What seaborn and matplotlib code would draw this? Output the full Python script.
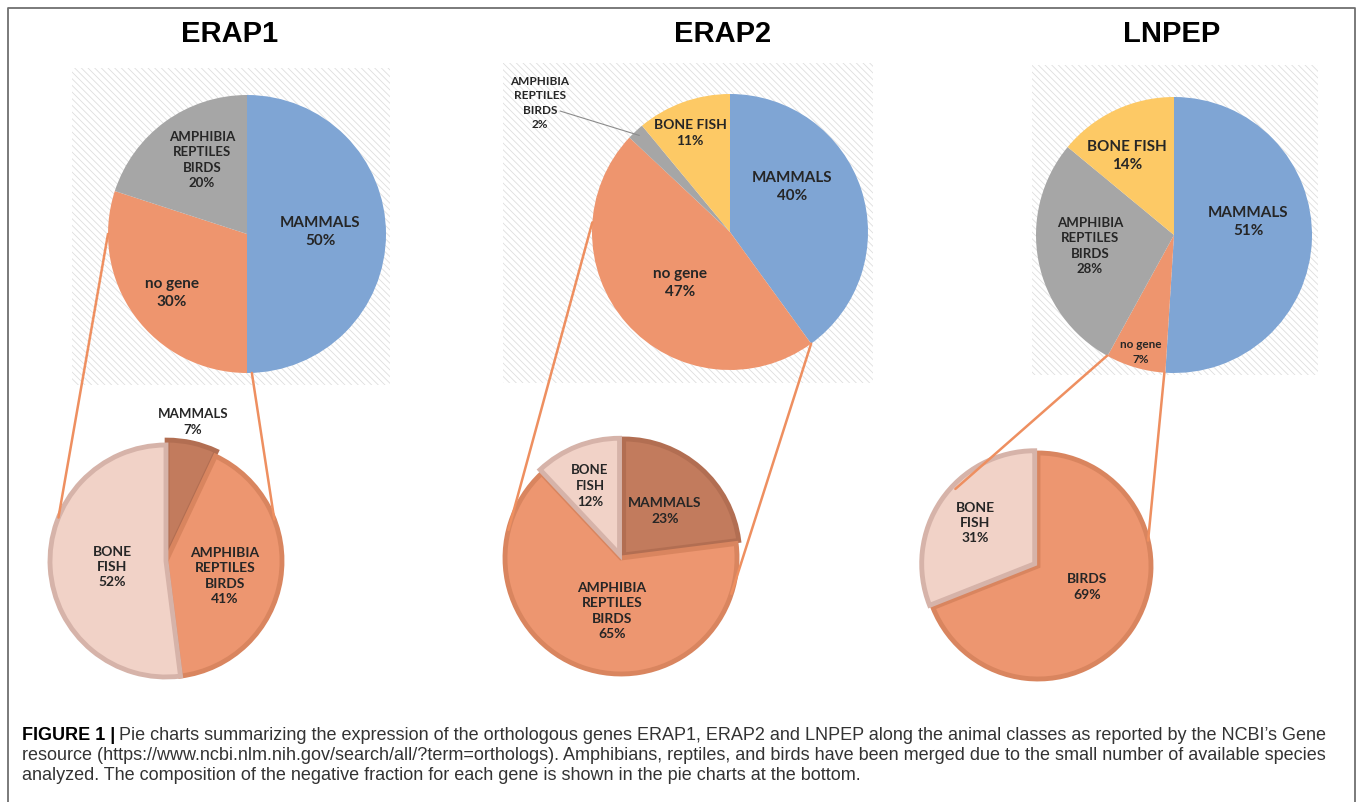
import numpy as np
import matplotlib
matplotlib.use("Agg")
import matplotlib.pyplot as plt
import seaborn as sns
from matplotlib.patches import Rectangle

sns.set_theme(style="white")
plt.rcParams['font.family'] = ['Lato', 'DejaVu Sans']
plt.rcParams['hatch.linewidth'] = 0.6

# ---- data -------------------------------------------------------------
genes = ["ERAP1", "ERAP2", "LNPEP"]

erap1_top_labels = ["MAMMALS", "no gene", "AMPHIBIA\nREPTILES\nBIRDS"]
erap1_top_values = [50, 30, 20]
erap2_top_labels = ["MAMMALS", "no gene", "AMPHIBIA\nREPTILES\nBIRDS", "BONE FISH"]
erap2_top_values = [40, 47, 2, 11]
lnpep_top_labels = ["MAMMALS", "no gene", "AMPHIBIA\nREPTILES\nBIRDS", "BONE FISH"]
lnpep_top_values = [51, 7, 28, 14]

erap1_bottom_labels = ["MAMMALS", "AMPHIBIA\nREPTILES\nBIRDS", "BONE\nFISH"]
erap1_bottom_values = [7, 41, 52]
erap2_bottom_labels = ["MAMMALS", "AMPHIBIA\nREPTILES\nBIRDS", "BONE\nFISH"]
erap2_bottom_values = [23, 65, 12]
lnpep_bottom_labels = ["BIRDS", "BONE\nFISH"]
lnpep_bottom_values = [69, 31]

caption_bold = "FIGURE 1 |"
caption_lines = [
    "Pie charts summarizing the expression of the orthologous genes ERAP1, ERAP2 and LNPEP along the animal classes as reported by the NCBI\u2019s Gene",
    "resource (https://www.ncbi.nlm.nih.gov/search/all/?term=orthologs). Amphibians, reptiles, and birds have been merged due to the small number of available species",
    "analyzed. The composition of the negative fraction for each gene is shown in the pie charts at the bottom.",
]

# ---- colours ----------------------------------------------------------
top_colors = {"MAMMALS": "#7fa5d4", "no gene": "#ee956e",
              "AMPHIBIA\nREPTILES\nBIRDS": "#a6a6a6", "BONE FISH": "#fdc965"}
bot_fill = {"MAMMALS": "#c27b5d", "AMPHIBIA\nREPTILES\nBIRDS": "#ed9670",
            "BIRDS": "#ed9670", "BONE\nFISH": "#f1d2c7"}
bot_edge = {"MAMMALS": "#b26e52", "AMPHIBIA\nREPTILES\nBIRDS": "#d9855f",
            "BIRDS": "#d9855f", "BONE\nFISH": "#d6b3a9"}
link_color = "#ee8f60"
text_color = "#262626"

# ---- layout (pixels, y measured from top) -----------------------------
W, H = 1358, 802
title_x = [230, 723, 1172]
top_centers = [(247, 234), (730, 232), (1174, 235)]
top_radius = [139, 138, 138]
top_boxes = [(72, 68, 390, 385), (503, 63, 873, 383), (1032, 65, 1318, 375)]
bot_centers = [(166, 561), (621, 558), (1038, 566)]
bot_radius = [116, 116, 113]
bot_explode = [[5, 0, 0], [4, 0, 4], [0, 4]]
# label offsets from pie centre and font sizes
top_label_off = [[(73, -2), (-75, 59), (-45, -74)],
                 [(62, -45), (-50, 51), (-190, -129), (-40, -99)],
                 [(74, -13), (-33, 117), (-84, 11), (-47, -79)]]
top_label_fs = [[11, 11, 9.5], [11, 11, 8.5, 10], [11, 8.5, 9.5, 11]]
bot_label_off = [[(27, -139), (59, 15), (-54, 6)],
                 [(44, -47), (-9, 53), (-31, -72)],
                 [(49, 21), (-63, -43)]]
bot_label_fs = [[9.5, 10, 10], [10, 10, 9.5], [10, 10]]
# connector lines: (angle on top pie, angle on bottom pie) for left / right
link_angles = [[(180, 158), (-88, 21)],
               [(176, 166), (-54, -18)],
               [(-119, 137), (-94, 13)]]

tops = [(erap1_top_labels, erap1_top_values),
        (erap2_top_labels, erap2_top_values),
        (lnpep_top_labels, lnpep_top_values)]
bots = [(erap1_bottom_labels, erap1_bottom_values),
        (erap2_bottom_labels, erap2_bottom_values),
        (lnpep_bottom_labels, lnpep_bottom_values)]


def fy(y):
    return H - y


def on_circle(center, r, ang):
    a = np.deg2rad(ang)
    return center[0] + r * np.cos(a), fy(center[1]) + r * np.sin(a)


fig = plt.figure(figsize=(W / 100, H / 100), dpi=100)
ax = fig.add_axes([0, 0, 1, 1])

for i, gene in enumerate(genes):
    ax.text(title_x[i], fy(34), gene, ha="center", va="center", fontsize=21,
            fontweight="bold", family=["Liberation Sans", "DejaVu Sans"], color="black")

    # hatched backdrop of the top pie
    x0, y0, x1, y1 = top_boxes[i]
    ax.add_patch(Rectangle((x0, fy(y1)), x1 - x0, y1 - y0, facecolor="white",
                           edgecolor="#dedede", hatch="\\\\\\\\\\", lw=0, zorder=0))

    # top pie
    labels, values = tops[i]
    c, r = top_centers[i], top_radius[i]
    ax.pie(values, colors=[top_colors[l] for l in labels], startangle=90,
           counterclock=False, center=(c[0], fy(c[1])), radius=r,
           wedgeprops=dict(linewidth=0))
    for lab, v, off, fs in zip(labels, values, top_label_off[i], top_label_fs[i]):
        ax.text(c[0] + off[0], fy(c[1] + off[1]), f"{lab}\n{v}%", ha="center",
                va="center", fontsize=fs, fontweight="bold", color=text_color,
                linespacing=1.35, zorder=5)

    # leader line for the tiny slice of ERAP2
    if gene == "ERAP2":
        cum = np.cumsum([0] + values)
        k = labels.index("AMPHIBIA\nREPTILES\nBIRDS")
        mid = 90 - 3.6 * (cum[k] + values[k] / 2)
        px, py = on_circle(c, r * 0.96, mid)
        off = top_label_off[i][k]
        ax.plot([c[0] + off[0] + 20, px], [fy(c[1] + off[1]) - 8, py],
                color="#8c8c8c", lw=0.8, zorder=4)

    # bottom pie
    blabels, bvalues = bots[i]
    bc, br = bot_centers[i], bot_radius[i]
    wedges, _ = ax.pie(bvalues, colors=[bot_fill[l] for l in blabels], startangle=90,
                       counterclock=False, center=(bc[0], fy(bc[1])), radius=br,
                       explode=bot_explode[i], wedgeprops=dict(linewidth=3.5))
    for w, lab in zip(wedges, blabels):
        w.set_edgecolor(bot_edge[lab])
    for lab, v, off, fs in zip(blabels, bvalues, bot_label_off[i], bot_label_fs[i]):
        ax.text(bc[0] + off[0], fy(bc[1] + off[1]), f"{lab}\n{v}%", ha="center",
                va="center", fontsize=fs, fontweight="bold", color=text_color,
                linespacing=1.35, zorder=5)

    # connector lines between the "no gene" slice and its breakdown
    for ta, ba in link_angles[i]:
        p0 = on_circle(c, r, ta)
        p1 = on_circle(bc, br, ba)
        ax.plot([p0[0], p1[0]], [p0[1], p1[1]], color=link_color, lw=1.8, zorder=3)

# figure frame (left, top, right)
ax.plot([8, 8, 1355, 1355], [0, fy(8), fy(8), 0], color="#707070", lw=1.3, zorder=6)

# caption
cap_font = ["Liberation Sans", "DejaVu Sans"]
cap_fs = 13
cap_y = [735, 755, 775]
bold = ax.text(22, fy(cap_y[0]), caption_bold, ha="left", va="center", fontsize=cap_fs,
               fontweight="bold", family=cap_font, color="black")
ax.annotate(caption_lines[0], xy=(1, 0), xycoords=bold, xytext=(3, 0),
            textcoords="offset points", ha="left", va="bottom", fontsize=cap_fs,
            family=cap_font, color="#333333")
for y, line in zip(cap_y[1:], caption_lines[1:]):
    ax.text(22, fy(y), line, ha="left", va="center", fontsize=cap_fs,
            family=cap_font, color="#333333")

ax.set_xlim(0, W)
ax.set_ylim(0, H)
ax.set_aspect("equal")
ax.axis("off")

fig.savefig("out.png", dpi=100)
